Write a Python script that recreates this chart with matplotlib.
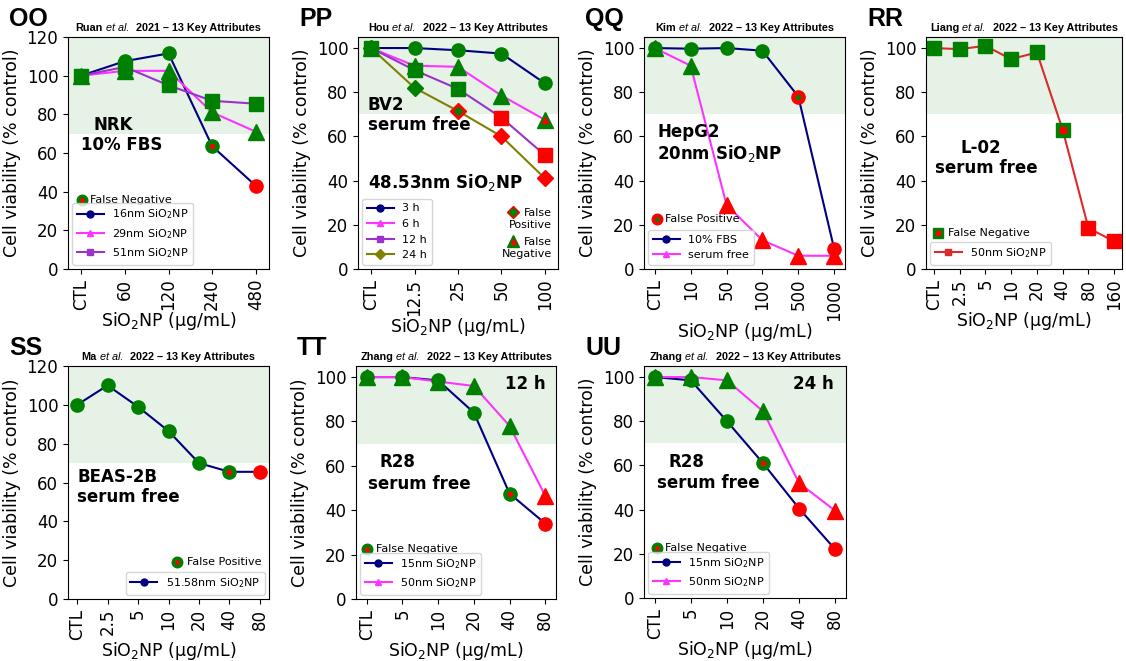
import matplotlib
matplotlib.use('Agg')
import matplotlib.pyplot as plt

# ---- data ----
oo_doses = ['CTL', '60', '120', '240', '480']
oo_16nm = [100, 107.5, 111.5, 63.5, 43]
oo_29nm = [100, 102.5, 102.5, 81, 71]
oo_51nm = [100, 104.5, 95, 87, 85.5]
oo_16nm_flag = ['G', 'G', 'G', 'GR', 'R']
oo_29nm_flag = ['G', 'G', 'G', 'G', 'G']
oo_51nm_flag = ['G', 'G', 'G', 'G', 'G']

pp_doses = ['CTL', '12.5', '25', '50', '100']
pp_3h = [100, 100, 99, 97.5, 84]
pp_6h = [100, 92, 91.5, 78.5, 67.5]
pp_12h = [100, 90, 81.5, 68.5, 51.5]
pp_24h = [100, 82, 71.5, 60, 41]
pp_3h_flag = ['G', 'G', 'G', 'G', 'G']
pp_6h_flag = ['G', 'G', 'G', 'G', 'GR']
pp_12h_flag = ['G', 'G', 'G', 'R', 'R']
pp_24h_flag = ['G', 'G', 'RG', 'R', 'R']

qq_doses = ['CTL', '10', '50', '100', '500', '1000']
qq_fbs = [100, 99.7, 100, 98.8, 78, 9]
qq_sf = [100, 92, 29, 13, 6, 6]
qq_fbs_flag = ['G', 'G', 'G', 'G', 'RG', 'R']
qq_sf_flag = ['G', 'G', 'R', 'R', 'R', 'R']

rr_doses = ['CTL', '2.5', '5', '10', '20', '40', '80', '160']
rr_50nm = [100, 99.5, 101, 95, 98, 63, 18.5, 12.5]
rr_50nm_flag = ['G', 'G', 'G', 'G', 'G', 'GR', 'R', 'R']

ss_doses = ['CTL', '2.5', '5', '10', '20', '40', '80']
ss_51nm = [100, 110, 99, 86.5, 70, 65.5, 65.5]
ss_51nm_flag = ['G', 'G', 'G', 'G', 'G', 'GR', 'R']

tt_doses = ['CTL', '5', '10', '20', '40', '80']
tt_15nm = [100, 100, 98.5, 84, 47.5, 34]
tt_50nm = [100, 100, 98, 96, 78, 46.5]
tt_15nm_flag = ['G', 'G', 'G', 'G', 'GR', 'R']
tt_50nm_flag = ['G', 'G', 'G', 'G', 'G', 'R']

uu_doses = ['CTL', '5', '10', '20', '40', '80']
uu_15nm = [100, 98.5, 80, 61, 40.5, 22]
uu_50nm = [100, 100, 98.5, 84.5, 52, 39.5]
uu_15nm_flag = ['G', 'G', 'G', 'GR', 'R', 'R']
uu_50nm_flag = ['G', 'G', 'G', 'G', 'R', 'R']

# ---- styles ----
W, H = 1126, 661
fig = plt.figure(figsize=(W / 100, H / 100), dpi=100)

GREEN = 'green'
RED = 'red'
NAVY = '#000080'
MAGENTA = '#ff33ff'
PURPLE = '#9933cc'
OLIVE = '#808000'
LRED = '#dd2a2a'
SUB = 'SiO$_2$NP'

MS = {'o': 9.5, '^': 11, 's': 9.5, 'D': 8}
INNER = {'o': 3, '^': 4.5, 's': 4, 'D': 4.5}
COL = {'G': GREEN, 'R': RED}


def draw_title(ax, author, rest):
    r = fig.canvas.get_renderer()
    pieces = [(author, 'normal', 'bold'), ('et al.', 'italic', 'normal'), (rest, 'normal', 'bold')]
    texts = [fig.text(0, 0, s, fontsize=7.8, style=st, weight=w, family='Liberation Sans', va='baseline')
             for s, st, w in pieces]
    widths = [t.get_window_extent(r).width for t in texts]
    gaps = [3, 7]
    total = sum(widths) + sum(gaps)
    pos = ax.get_position()
    x = (pos.x0 + pos.x1) / 2 * W - total / 2
    y = pos.y1 * H + 6
    for i, t in enumerate(texts):
        t.set_position((x / W, y / H))
        x += widths[i] + (gaps[i] if i < 2 else 0)


def add_panel(rect, letter, author, rest, doses, series, ymax, yticks, notes, keys, legend_loc):
    l, r, t, b = rect
    ax = fig.add_axes([l / W, 1 - b / H, (r - l) / W, (b - t) / H])
    x = list(range(len(doses)))
    ax.axhspan(70, ymax, color=GREEN, alpha=0.1, lw=0, zorder=0)
    for vals, flags, color, mk, label in series:
        ax.plot(x, vals, color=color, lw=1.5, marker=mk, ms=5, label=label, zorder=2)
        for xi, v, f in zip(x, vals, flags):
            ax.plot(xi, v, marker=mk, ms=MS[mk], color=COL[f[0]], ls='none', zorder=3)
            if len(f) == 2:
                ax.plot(xi, v, marker=mk, ms=INNER[mk], color=COL[f[1]], ls='none', zorder=4)
    ax.set_xlim(-0.3, len(doses) - 0.7)
    ax.set_ylim(0, ymax)
    ax.set_xticks(x, doses, rotation=90, fontsize=12)
    ax.set_yticks(yticks)
    ax.tick_params(axis='y', labelsize=12)
    ax.set_xlabel('SiO$_2$NP (µg/mL)', fontsize=12.5, labelpad=0)
    ax.set_ylabel('Cell viability (% control)', fontsize=12.5)
    ax.legend(loc=legend_loc, fontsize=8, handlelength=2.4, borderaxespad=0.4)
    for fx, fy, s, ha in notes:
        ax.text(fx, fy, s, transform=ax.transAxes, fontsize=12, weight='bold', ha=ha, va='center')
    for mx, my, mk, f, tx, ty, s, ha in keys:
        ax.plot(mx, my, marker=mk, ms=MS[mk] * 0.8, color=COL[f[0]], transform=ax.transAxes, clip_on=False)
        ax.plot(mx, my, marker=mk, ms=INNER[mk] * 0.8, color=COL[f[1]], transform=ax.transAxes, clip_on=False)
        ax.text(tx, ty, s, transform=ax.transAxes, fontsize=8, ha=ha, va='center', multialignment=ha)
    draw_title(ax, author, rest)
    fig.text((l - 59) / W, 1 - (t - 11) / H, letter, fontsize=18, weight='bold',
             family='Liberation Sans', va='baseline')
    return ax


y120 = [0, 20, 40, 60, 80, 100, 120]
y100 = [0, 20, 40, 60, 80, 100]

add_panel((68, 269, 37, 269), 'OO', 'Ruan', '2021 – 13 Key Attributes', oo_doses,
          [(oo_16nm, oo_16nm_flag, NAVY, 'o', '16nm ' + SUB),
           (oo_29nm, oo_29nm_flag, MAGENTA, '^', '29nm ' + SUB),
           (oo_51nm, oo_51nm_flag, PURPLE, 's', '51nm ' + SUB)],
          120, y120,
          [(0.224, 0.62, 'NRK', 'center'), (0.269, 0.534, '10% FBS', 'center')],
          [(0.07, 0.297, 'o', 'GR', 0.11, 0.297, 'False Negative', 'left')],
          'lower left')

add_panel((358, 558, 37, 269), 'PP', 'Hou', '2022 – 13 Key Attributes', pp_doses,
          [(pp_3h, pp_3h_flag, NAVY, 'o', '3 h'),
           (pp_6h, pp_6h_flag, MAGENTA, '^', '6 h'),
           (pp_12h, pp_12h_flag, PURPLE, 's', '12 h'),
           (pp_24h, pp_24h_flag, OLIVE, 'D', '24 h')],
          105, y100,
          [(0.05, 0.707, 'BV2', 'left'), (0.05, 0.621, 'serum free', 'left'),
           (0.05, 0.371, '48.53nm ' + SUB, 'left')],
          [(0.775, 0.246, 'D', 'RG', 0.97, 0.215, 'False\nPositive', 'right'),
           (0.775, 0.121, '^', 'GR', 0.97, 0.09, 'False\nNegative', 'right')],
          'lower left')

add_panel((644, 845, 37, 269), 'QQ', 'Kim', '2022 – 13 Key Attributes', qq_doses,
          [(qq_fbs, qq_fbs_flag, NAVY, 'o', '10% FBS'),
           (qq_sf, qq_sf_flag, MAGENTA, '^', 'serum free')],
          105, y100,
          [(0.065, 0.59, 'HepG2', 'left'), (0.065, 0.496, '20nm ' + SUB, 'left')],
          [(0.065, 0.216, 'o', 'RG', 0.105, 0.216, 'False Positive', 'left')],
          'lower left')

add_panel((926, 1122, 37, 269), 'RR', 'Liang', '2022 – 13 Key Attributes', rr_doses,
          [(rr_50nm, rr_50nm_flag, LRED, 's', '50nm ' + SUB)],
          105, y100,
          [(0.28, 0.52, 'L-02', 'center'), (0.306, 0.435, 'serum free', 'center')],
          [(0.061, 0.155, 's', 'GR', 0.112, 0.155, 'False Negative', 'left')],
          'lower left')

add_panel((68, 269, 366, 599), 'SS', 'Ma', '2022 – 13 Key Attributes', ss_doses,
          [(ss_51nm, ss_51nm_flag, NAVY, 'o', '51.58nm ' + SUB)],
          120, y120,
          [(0.045, 0.524, 'BEAS-2B', 'left'), (0.045, 0.438, 'serum free', 'left')],
          [(0.542, 0.159, 'o', 'GR', 0.59, 0.159, 'False Positive', 'left')],
          'lower right')

add_panel((356, 556, 366, 599), 'TT', 'Zhang', '2022 – 13 Key Attributes', tt_doses,
          [(tt_15nm, tt_15nm_flag, NAVY, 'o', '15nm ' + SUB),
           (tt_50nm, tt_50nm_flag, MAGENTA, '^', '50nm ' + SUB)],
          105, y100,
          [(0.205, 0.588, 'R28', 'center'), (0.315, 0.494, 'serum free', 'center'),
           (0.845, 0.923, '12 h', 'center')],
          [(0.055, 0.215, 'o', 'GR', 0.1, 0.215, 'False Negative', 'left')],
          'lower left')

add_panel((644, 846, 366, 598), 'UU', 'Zhang', '2022 – 13 Key Attributes', uu_doses,
          [(uu_15nm, uu_15nm_flag, NAVY, 'o', '15nm ' + SUB),
           (uu_50nm, uu_50nm_flag, MAGENTA, '^', '50nm ' + SUB)],
          105, y100,
          [(0.208, 0.586, 'R28', 'center'), (0.317, 0.496, 'serum free', 'center'),
           (0.84, 0.922, '24 h', 'center')],
          [(0.064, 0.216, 'o', 'GR', 0.104, 0.216, 'False Negative', 'left')],
          'lower left')

fig.savefig('out.png', dpi=100)
